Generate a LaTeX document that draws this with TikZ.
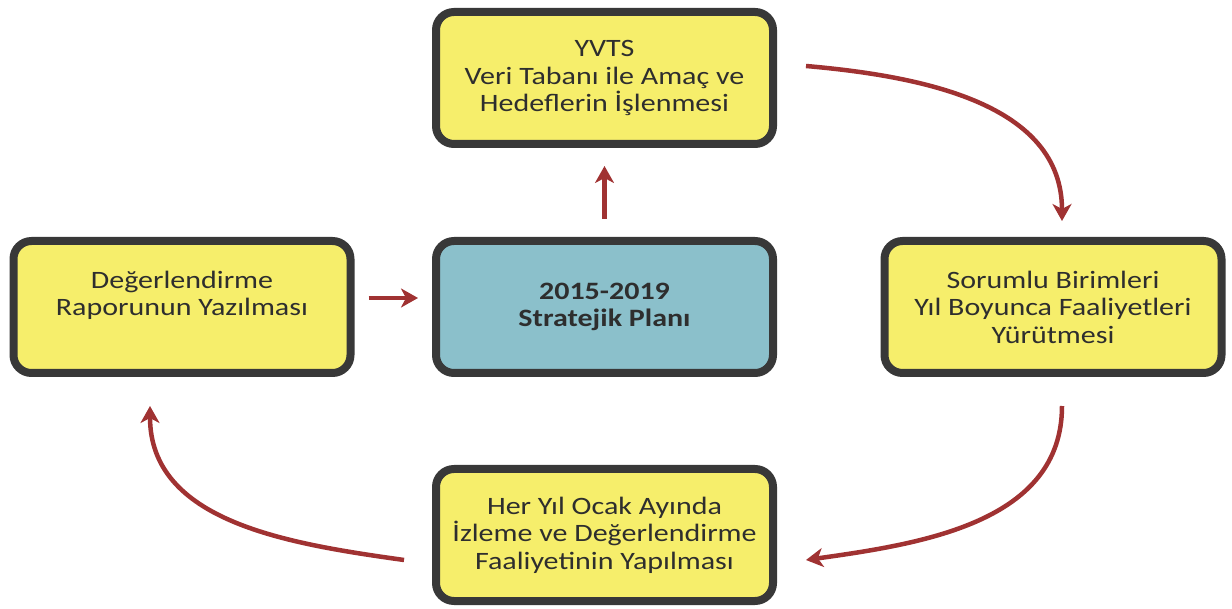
\documentclass[tikz,border=0pt]{standalone}
\usepackage{fontspec}
\setmainfont{Carlito}[FakeStretch=1.2]
\usetikzlibrary{arrows.meta}
\definecolor{boxyellow}{HTML}{F6EE6B}
\definecolor{boxblue}{HTML}{8BC0CB}
\definecolor{boxline}{HTML}{383838}
\definecolor{boxtext}{HTML}{2E2E2E}
\definecolor{arrowred}{HTML}{A03232}
\tikzset{
  stepbox/.style={draw=boxline, fill=boxyellow, line width=8pt, rounded corners=18pt,
    minimum width=337pt, minimum height=132pt, align=center, text=boxtext,
    font=\fontsize{25}{27.5}\selectfont},
  planbox/.style={stepbox, fill=boxblue, font=\fontsize{25}{27.5}\selectfont\bfseries},
  flow/.style={-{Stealth[length=17pt,width=19pt,inset=5pt]}, draw=arrowred, line width=4.5pt}
}
\begin{document}
\begin{tikzpicture}[x=1pt,y=1pt]
      \useasboundingbox (0,0) rectangle (1232,608);
      \draw
        (604.5,530) node[stepbox] (veri){YVTS\\Veri Tabanı ile Amaç ve\\Hedeflerin İşlenmesi}
        (182,301) node[stepbox] (rapor){Değerlendirme\\Raporunun Yazılması\\\mbox{}}
        (604.5,301) node[planbox] (plan){2015-2019\\Stratejik Planı}
        (1053,301) node[stepbox] (birim){Sorumlu Birimleri\\Yıl Boyunca Faaliyetleri\\Yürütmesi}
        (604.5,73) node[stepbox] (izleme){Her Yıl Ocak Ayında\\İzleme ve Değerlendirme\\Faaliyetinin Yapılması};
      \begin{scope}[flow]
        \draw ([xshift=29pt,yshift=12pt]veri.east) to[out=-5,in=90] ([xshift=9pt,yshift=16pt]birim.north);
        \draw ([xshift=9pt,yshift=-29pt]birim.south) to[out=-90,in=8] ([xshift=29pt,yshift=-25pt]izleme.east);
        \draw ([xshift=-28pt,yshift=-25pt]izleme.west) to[out=172,in=-90] ([xshift=-32pt,yshift=-29pt]rapor.south);
        \draw ([xshift=14pt,yshift=9pt]rapor.east) -- ([xshift=-14pt,yshift=9pt]plan.west);
        \draw ([yshift=18pt]plan.north) -- ([yshift=-18pt]veri.south);
      \end{scope}
    \end{tikzpicture}
\end{document}
